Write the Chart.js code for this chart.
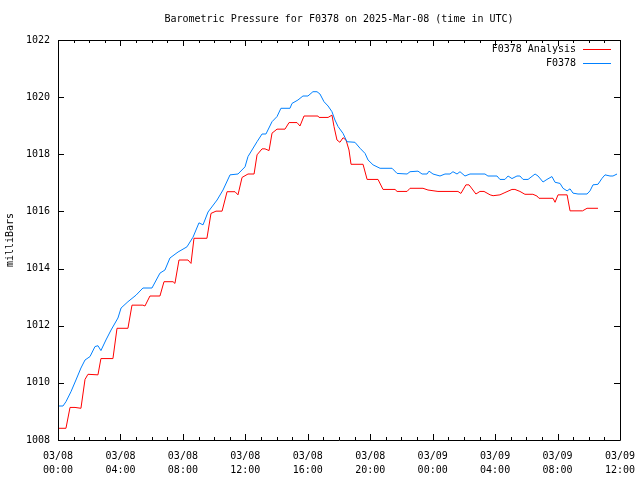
<!DOCTYPE html>
<html><head><meta charset="utf-8">
<script src="https://cdn.jsdelivr.net/npm/chart.js@4/dist/chart.umd.min.js"></script>
<style>html,body{margin:0;padding:0;background:#fff;}</style>
</head><body>
<canvas id="c" width="640" height="480"></canvas>
<script>
const titleText = 'Barometric Pressure for F0378 on 2025-Mar-08 (time in UTC)';
const yAxisTitle = 'milliBars';
const seriesNames = ['F0378 Analysis', 'F0378'];
const seriesColors = ['#ff0000', '#0080ff'];
const xTickLabels = [
  ['03/08','00:00'],['03/08','04:00'],['03/08','08:00'],['03/08','12:00'],['03/08','16:00'],
  ['03/08','20:00'],['03/09','00:00'],['03/09','04:00'],['03/09','08:00'],['03/09','12:00']
];
const yTickValues = [1008,1010,1012,1014,1016,1018,1020,1022];

// hours since 03/08 00:00 UTC
const analysisHours = [
  0.00,0.51,0.77,1.09,1.47,1.73,1.92,2.56,2.75,3.52,
  3.78,4.48,4.74,5.44,5.57,5.89,6.53,6.79,7.37,7.49,
  7.75,8.33,8.52,8.71,9.54,9.80,10.12,10.51,10.83,11.34,
  11.53,11.79,12.17,12.56,12.75,13.07,13.26,13.52,13.71,14.03,
  14.54,14.80,15.31,15.50,15.76,16.65,16.72,17.30,17.55,17.68,
  17.87,18.06,18.26,18.45,18.64,18.77,19.54,19.80,20.50,20.82,
  21.59,21.72,22.36,22.55,23.38,23.70,24.34,25.62,25.81,26.13,
  26.33,26.58,26.77,27.03,27.29,27.68,27.87,28.31,28.63,29.08,
  29.27,29.59,29.91,30.42,30.68,30.81,31.71,31.84,32.03,32.61,
  32.80,33.60,33.89,34.59
];
const analysisValues = [
  1008.41,1008.41,1009.14,1009.14,1009.11,1010.12,1010.30,1010.28,1010.85,1010.85,
  1011.91,1011.91,1012.72,1012.72,1012.69,1013.04,1013.04,1013.54,1013.54,1013.48,
  1014.30,1014.30,1014.18,1015.06,1015.06,1015.93,1016.01,1016.01,1016.69,1016.69,
  1016.58,1017.19,1017.31,1017.31,1017.98,1018.19,1018.19,1018.13,1018.74,1018.88,
  1018.88,1019.11,1019.11,1018.99,1019.34,1019.34,1019.29,1019.29,1019.37,1018.97,
  1018.50,1018.42,1018.58,1018.50,1018.15,1017.65,1017.65,1017.12,1017.12,1016.77,
  1016.77,1016.70,1016.70,1016.81,1016.81,1016.75,1016.70,1016.70,1016.63,1016.93,
  1016.93,1016.75,1016.61,1016.70,1016.70,1016.58,1016.55,1016.58,1016.66,1016.77,
  1016.77,1016.70,1016.60,1016.60,1016.54,1016.46,1016.46,1016.32,1016.58,1016.58,
  1016.02,1016.02,1016.11,1016.11
];
const stationHours = [
  0.00,0.32,0.51,0.83,1.15,1.47,1.73,2.05,2.37,2.56,
  2.75,3.07,3.40,3.84,4.04,4.48,5.00,5.44,6.02,6.53,
  6.85,7.17,7.69,8.26,8.65,9.03,9.29,9.61,10.19,10.57,
  11.02,11.53,11.98,12.17,12.75,13.07,13.32,13.71,14.03,14.28,
  14.86,14.99,15.37,15.69,16.01,16.33,16.59,16.78,17.04,17.30,
  17.55,17.74,17.94,18.26,18.51,19.02,19.35,19.67,19.86,20.18,
  20.63,21.40,21.72,22.36,22.55,23.06,23.32,23.64,23.77,24.02,
  24.47,24.79,25.11,25.30,25.56,25.75,26.07,26.39,27.35,27.54,
  28.12,28.31,28.63,28.83,29.08,29.40,29.59,29.79,30.11,30.56,
  30.75,31.07,31.32,31.64,31.84,32.16,32.35,32.61,32.80,32.99,
  33.31,33.89,34.08,34.27,34.59,34.85,35.04,35.36,35.55,35.81
];
const stationValues = [
  1009.19,1009.19,1009.34,1009.69,1010.10,1010.52,1010.80,1010.92,1011.27,1011.30,
  1011.13,1011.50,1011.85,1012.27,1012.62,1012.84,1013.07,1013.32,1013.32,1013.84,
  1013.95,1014.37,1014.58,1014.76,1015.10,1015.60,1015.53,1015.98,1016.40,1016.75,
  1017.28,1017.31,1017.56,1017.92,1018.44,1018.71,1018.71,1019.14,1019.32,1019.61,
  1019.61,1019.78,1019.90,1020.04,1020.04,1020.19,1020.19,1020.11,1019.84,1019.69,
  1019.49,1019.20,1018.97,1018.73,1018.44,1018.42,1018.21,1018.03,1017.80,1017.63,
  1017.51,1017.51,1017.33,1017.31,1017.39,1017.41,1017.31,1017.31,1017.41,1017.31,
  1017.24,1017.31,1017.31,1017.39,1017.31,1017.39,1017.24,1017.31,1017.31,1017.24,
  1017.24,1017.12,1017.12,1017.24,1017.15,1017.24,1017.24,1017.12,1017.12,1017.31,
  1017.24,1017.03,1017.12,1017.22,1017.02,1016.98,1016.81,1016.72,1016.79,1016.64,
  1016.61,1016.61,1016.72,1016.93,1016.95,1017.16,1017.28,1017.24,1017.24,1017.31
];

const FONT = "'DejaVu Sans Mono', monospace";

const framePlugin = {
  id: 'gnuFrame',
  afterDraw(chart) {
    const {ctx, chartArea: a, scales} = chart;
    const xs = scales.x, ys = scales.y;
    ctx.save();
    ctx.strokeStyle = '#000';
    ctx.lineWidth = 1;
    ctx.beginPath();
    ctx.rect(a.left + 0.5, a.top + 0.5, a.right - a.left, a.bottom - a.top);
    for (let h = 0; h <= 36; h++) {
      const px = Math.round(xs.getPixelForValue(h)) + 0.5;
      const len = (h % 4 === 0) ? 6 : 3;
      ctx.moveTo(px, a.bottom); ctx.lineTo(px, a.bottom - len);
      ctx.moveTo(px, a.top); ctx.lineTo(px, a.top + len);
    }
    yTickValues.forEach(v => {
      const py = Math.round(ys.getPixelForValue(v)) + 0.5;
      ctx.moveTo(a.left, py); ctx.lineTo(a.left + 6, py);
      ctx.moveTo(a.right, py); ctx.lineTo(a.right - 6, py);
    });
    ctx.stroke();
    ctx.fillStyle = '#000';
    ctx.font = '10px ' + FONT;
    ctx.textAlign = 'center';
    ctx.textBaseline = 'middle';
    ctx.fillText(titleText, (a.left + a.right) / 2, 19);
    chart.data.datasets.forEach((ds, i) => {
      const y = 49 + i * 14;
      ctx.textAlign = 'right';
      ctx.fillStyle = '#000';
      ctx.fillText(ds.label, 576, y);
      ctx.strokeStyle = ds.borderColor;
      ctx.beginPath();
      ctx.moveTo(583, Math.round(y) + 0.5);
      ctx.lineTo(611, Math.round(y) + 0.5);
      ctx.stroke();
    });
    ctx.restore();
  }
};

new Chart(document.getElementById('c'), {
  type: 'line',
  data: {
    datasets: [
      { label: seriesNames[0], data: analysisHours.map((h, i) => ({x: h, y: analysisValues[i]})),
        borderColor: seriesColors[0], borderWidth: 1, pointRadius: 0, tension: 0, fill: false, order: 1 },
      { label: seriesNames[1], data: stationHours.map((h, i) => ({x: h, y: stationValues[i]})),
        borderColor: seriesColors[1], borderWidth: 1, pointRadius: 0, tension: 0, fill: false, order: 0 }
    ]
  },
  options: {
    responsive: false,
    devicePixelRatio: 1,
    animation: false,
    events: [],
    layout: { padding: { top: 40, right: 20, bottom: 0, left: 4 } },
    plugins: { legend: { display: false }, tooltip: { enabled: false }, title: { display: false } },
    scales: {
      x: {
        type: 'linear', min: 0, max: 36,
        grid: { display: false, drawTicks: false },
        border: { display: false },
        ticks: {
          stepSize: 4, autoSkip: false, maxRotation: 0, padding: 9,
          color: '#000', font: { family: FONT, size: 10, lineHeight: 1.4 },
          callback: v => xTickLabels[Math.round(v / 4)]
        },
        afterFit: s => { s.height = 40; s.paddingLeft = 0; s.paddingRight = 0; }
      },
      y: {
        type: 'linear', min: 1008, max: 1022,
        grid: { display: false, drawTicks: false },
        border: { display: false },
        ticks: { stepSize: 2, padding: 8, color: '#000', font: { family: FONT, size: 10 },
          callback: v => String(v) },
        title: { display: true, text: yAxisTitle, color: '#000', font: { family: FONT, size: 10 }, padding: 0 },
        afterFit: s => { s.width = 54; s.paddingTop = 0; s.paddingBottom = 0; }
      }
    }
  },
  plugins: [framePlugin]
});
</script>
</body></html>
